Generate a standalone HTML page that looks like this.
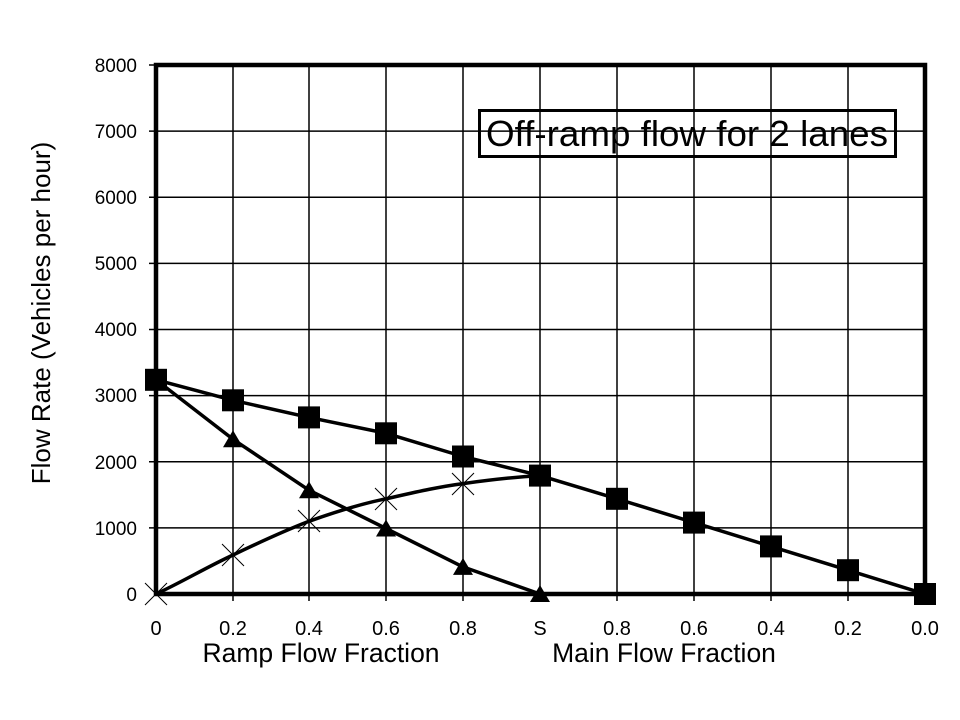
<!DOCTYPE html>
<html><head><meta charset="utf-8"><style>
html,body{margin:0;padding:0;background:#fff;}
svg{display:block;font-family:"Liberation Sans",Arial,sans-serif;}
</style></head><body>
<svg width="960" height="720" viewBox="0 0 960 720" xmlns="http://www.w3.org/2000/svg">
<rect width="960" height="720" fill="#fff"/>
<g stroke="#000" stroke-width="1.5">
<line x1="233" y1="65" x2="233" y2="601"/><line x1="309" y1="65" x2="309" y2="601"/>
<line x1="386" y1="65" x2="386" y2="601"/><line x1="463" y1="65" x2="463" y2="601"/>
<line x1="540" y1="65" x2="540" y2="601"/><line x1="617" y1="65" x2="617" y2="601"/>
<line x1="694" y1="65" x2="694" y2="601"/><line x1="771" y1="65" x2="771" y2="601"/>
<line x1="848" y1="65" x2="848" y2="601"/>
<line x1="149" y1="131.1" x2="925" y2="131.1"/><line x1="149" y1="197.3" x2="925" y2="197.3"/>
<line x1="149" y1="263.4" x2="925" y2="263.4"/><line x1="149" y1="329.5" x2="925" y2="329.5"/>
<line x1="149" y1="395.6" x2="925" y2="395.6"/><line x1="149" y1="461.8" x2="925" y2="461.8"/>
<line x1="149" y1="527.9" x2="925" y2="527.9"/>
<line x1="149" y1="65" x2="156" y2="65"/>
</g>
<rect x="156" y="65" width="769" height="529" fill="none" stroke="#000" stroke-width="4.5"/>
<rect x="479.5" y="110.5" width="416" height="46" fill="none" stroke="#000" stroke-width="3"/>
<text x="687" y="146" font-size="36" text-anchor="middle" textLength="402" lengthAdjust="spacingAndGlyphs">Off-ramp flow for 2 lanes</text>
<g font-size="19" text-anchor="end">
<text x="137" y="72">8000</text><text x="137" y="138">7000</text><text x="137" y="204">6000</text>
<text x="137" y="270">5000</text><text x="137" y="336">4000</text><text x="137" y="402">3000</text>
<text x="137" y="469">2000</text><text x="137" y="535">1000</text><text x="137" y="601">0</text>
</g>
<g font-size="20" text-anchor="middle">
<text x="156" y="635">0</text><text x="233" y="635">0.2</text><text x="309" y="635">0.4</text>
<text x="386" y="635">0.6</text><text x="463" y="635">0.8</text><text x="540" y="635">S</text>
<text x="617" y="635">0.8</text><text x="694" y="635">0.6</text><text x="771" y="635">0.4</text>
<text x="848" y="635">0.2</text><text x="925" y="635">0.0</text>
</g>
<text x="321" y="662" font-size="26.5" text-anchor="middle">Ramp Flow Fraction</text>
<text x="664" y="662" font-size="26.5" text-anchor="middle">Main Flow Fraction</text>
<text transform="translate(50,313) rotate(-90)" font-size="26" text-anchor="middle">Flow Rate (Vehicles per hour)</text>
<g fill="none" stroke="#000" stroke-width="3.5" stroke-linejoin="round">
<polyline points="156,379.8 233,400.3 309,417.4 386,433.3 463,456.5 540,475.6 617,498.8 694,522.6 771,546.4 848,570.2 925,594"/>
<polyline points="156,379.8 233,439.3 309,490.2 386,528.5 463,566.9 540,594"/>
<path d="M156,594 C182,582 207,567 233,555 C258,543 284,531 309,521.3 C335,512 360,504 386,498.8 C412,493 437,487 463,483.6 C489,480 514,477 540,475.6"/>
</g>
<g stroke="#000" stroke-width="1">
<path d="M145,583 L167,605 M167,583 L145,605"/>
<path d="M222,544 L244,566 M244,544 L222,566"/>
<path d="M298,510 L320,532 M320,510 L298,532"/>
<path d="M375,488 L397,510 M397,488 L375,510"/>
<path d="M452,473 L474,495 M474,473 L452,495"/>
</g>
<g fill="#000">
<path d="M233,430.3 L243,447.3 L223,447.3Z"/>
<path d="M309,481.2 L319,498.2 L299,498.2Z"/>
<path d="M386,519.5 L396,536.5 L376,536.5Z"/>
<path d="M463,557.9 L473,574.9 L453,574.9Z"/>
<path d="M540,585 L550,602 L530,602Z"/>
<rect x="145" y="368.8" width="22" height="22"/>
<rect x="222" y="389.3" width="22" height="22"/>
<rect x="298" y="406.4" width="22" height="22"/>
<rect x="375" y="422.3" width="22" height="22"/>
<rect x="452" y="445.5" width="22" height="22"/>
<rect x="529" y="464.6" width="22" height="22"/>
<rect x="606" y="487.8" width="22" height="22"/>
<rect x="683" y="511.6" width="22" height="22"/>
<rect x="760" y="535.4" width="22" height="22"/>
<rect x="837" y="559.2" width="22" height="22"/>
<rect x="914" y="583" width="22" height="22"/>
</g>
</svg>
</body></html>
